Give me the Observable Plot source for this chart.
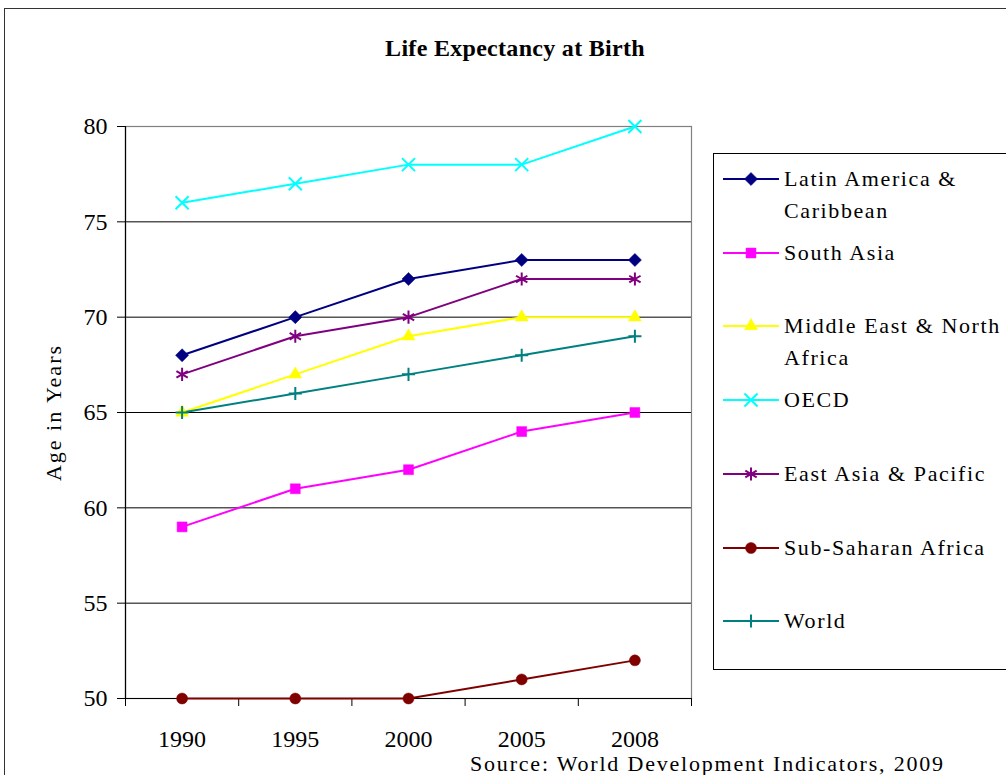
<!DOCTYPE html>
<html><head><meta charset="utf-8">
<script src="https://cdn.jsdelivr.net/npm/d3@7"></script>
<script src="https://cdn.jsdelivr.net/npm/@observablehq/plot@0.6"></script>
<style>
body{margin:0;background:#fff;overflow:hidden;}
#wrap{position:relative;width:1006px;height:775px;overflow:hidden;font-family:"Liberation Serif","Times New Roman",serif;color:#000;}
#border{position:absolute;left:4px;top:8px;width:1100px;height:900px;border:1.5px solid #333;box-sizing:border-box;}
#title{position:absolute;left:0;width:1030px;top:34px;text-align:center;font-weight:bold;font-size:24px;letter-spacing:0.3px;line-height:28px;}
#chart{position:absolute;left:0;top:0;}
#chart svg g[aria-label="y-axis label"] text{letter-spacing:2px;}
#legend{position:absolute;left:713px;top:153px;width:400px;height:517px;border:1px solid #000;box-sizing:border-box;background:#fff;}
.entry{position:absolute;left:9px;}
.entry svg{position:absolute;left:0;top:-10px;}
.entry .lab{position:absolute;left:61px;top:-16px;width:232px;font-size:22px;letter-spacing:1.6px;line-height:32px;}
#source{position:absolute;left:470px;top:751px;font-size:22px;letter-spacing:1.8px;white-space:nowrap;line-height:26px;}
</style></head>
<body>
<div id="wrap">
  <div id="border"></div>
  <div id="title">Life Expectancy at Birth</div>
  <div id="chart"></div>
  <div id="legend"></div>
  <div id="source">Source: World Development Indicators, 2009</div>
</div>
<script>
// ---- data ----
const years = ["1990", "1995", "2000", "2005", "2008"];
const yTicks = [50, 55, 60, 65, 70, 75, 80];
const seriesNames = ["Latin America & Caribbean", "South Asia", "Middle East & North Africa", "OECD", "East Asia & Pacific", "Sub-Saharan Africa", "World"];
const latinAmerica = [68, 70, 72, 73, 73];
const southAsia = [59, 61, 62, 64, 65];
const middleEast = [65, 67, 69, 70, 70];
const oecd = [76, 77, 78, 78, 80];
const eastAsia = [67, 69, 70, 72, 72];
const subSaharan = [50, 50, 50, 51, 52];
const world = [65, 66, 67, 68, 69];
const seriesValues = [latinAmerica, southAsia, middleEast, oecd, eastAsia, subSaharan, world];

// ---- styles ----
const colors = ["#000080", "#FF00FF", "#FFFF00", "#00FFFF", "#800080", "#800000", "#008080"];
const symbols = ["diamond2", "square", "triangle", "times", "asterisk", "circle", "plus"];
const filled = [true, true, true, false, false, true, false];
const radii = [5.9, 5.6, 4.8, 6, 6.2, 5.5, 4.3];

const rows = [];
seriesNames.forEach((name, s) => {
  seriesValues[s].forEach((v, i) => rows.push({series: name, i, year: years[i], value: v}));
});

const boundaries = d3.range(years.length + 1).map(k => k - 0.5);

const marks = [
  Plot.gridY(yTicks, {stroke: "#000", strokeOpacity: 1, strokeWidth: 1}),
  Plot.frame({stroke: "#808080", strokeWidth: 1.2}),
  Plot.axisY(yTicks, {tickSize: 8, tickPadding: 10, stroke: "#000", fontSize: 24, label: null}),
  Plot.axisY({label: "Age in Years", labelAnchor: "center", labelArrow: "none", labelOffset: 80, fontSize: 22, ticks: [], tickSize: 0}),
  Plot.axisX(boundaries, {tickSize: 8, tickFormat: () => "", stroke: "#000", label: null}),
  Plot.axisX(d3.range(years.length), {tickSize: 0, tickPadding: 31, tickFormat: i => years[i], label: null, fontSize: 24}),
  Plot.ruleX([-0.5], {stroke: "#000", strokeWidth: 1.2}),
  Plot.ruleY([50], {stroke: "#000", strokeWidth: 1.2}),
  Plot.line(rows, {x: "i", y: "value", z: "series", stroke: "series", strokeWidth: 2})
];
seriesNames.forEach((name, s) => {
  const data = rows.filter(d => d.series === name);
  marks.push(Plot.dot(data, {
    x: "i", y: "value", symbol: () => symbols[s], r: radii[s],
    fill: filled[s] ? colors[s] : "none",
    stroke: colors[s], strokeWidth: filled[s] ? 0.5 : 2
  }));
});

const chart = Plot.plot({
  width: 1006, height: 775,
  marginLeft: 125, marginRight: 315, marginTop: 126, marginBottom: 77,
  style: {fontFamily: "'Liberation Serif','Times New Roman',serif", fontSize: "22px", background: "transparent", color: "#000"},
  x: {type: "linear", domain: [-0.5, years.length - 0.5], axis: null},
  y: {domain: [50, 80], axis: null},
  color: {domain: seriesNames, range: colors},
  symbol: {type: "identity"},
  marks
});
document.getElementById("chart").appendChild(chart);

// ---- legend ----
const legend = d3.select("#legend");
const symMap = {diamond2: d3.symbolDiamond2, square: d3.symbolSquare, triangle: d3.symbolTriangle, times: d3.symbolTimes, asterisk: d3.symbolAsterisk, circle: d3.symbolCircle, plus: d3.symbolPlus};
seriesNames.forEach((name, s) => {
  const e = legend.append("div").attr("class", "entry").style("top", (25 + s * 73.7) + "px");
  const svg = e.append("svg").attr("width", 58).attr("height", 20);
  svg.append("line").attr("x1", 0).attr("x2", 56).attr("y1", 10).attr("y2", 10)
    .attr("stroke", colors[s]).attr("stroke-width", 2);
  svg.append("path").attr("transform", "translate(28,10)")
    .attr("d", d3.symbol(symMap[symbols[s]], Math.PI * radii[s] * radii[s])())
    .attr("fill", filled[s] ? colors[s] : "none")
    .attr("stroke", colors[s]).attr("stroke-width", filled[s] ? 0.5 : 2);
  e.append("div").attr("class", "lab").text(name);
});
</script>
</body></html>
